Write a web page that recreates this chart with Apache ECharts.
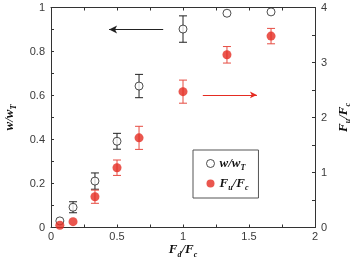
<!DOCTYPE html>
<html>
<head>
<meta charset="utf-8" />
<style>
  html, body { margin: 0; padding: 0; background: #fff; }
  #main { width: 352px; height: 257px; }
</style>
</head>
<body>
<div id="main"></div>
<script src="https://cdn.jsdelivr.net/npm/echarts@6/dist/echarts.min.js"></script>
<script>
// Fd/Fc positions
const forceRatio = [0.067, 0.167, 0.333, 0.5, 0.667, 1, 1.333, 1.667];
// w/wT (left axis) and its error
const widthRatio = [0.03, 0.092, 0.211, 0.392, 0.643, 0.902, 0.974, 0.98];
const widthErr = [0, 0.025, 0.037, 0.036, 0.053, 0.06, 0, 0];
// Fu/Fc (right axis) and its error
const upliftRatio = [0.04, 0.106, 0.56, 1.087, 1.63, 2.47, 3.14, 3.48];
const upliftErr = [0, 0, 0.12, 0.14, 0.21, 0.21, 0.15, 0.14];

const RED = '#e52c22';
const RED_BAR = '#e64c42';
const AXIS = '#333';

const chart = echarts.init(document.getElementById('main'));

const titleRich = {
  b: { fontFamily: 'Liberation Serif', fontStyle: 'italic', fontWeight: 'bold', fontSize: 13, color: '#111' },
  s: { fontFamily: 'Liberation Serif', fontStyle: 'italic', fontWeight: 'bold', fontSize: 8, color: '#111', padding: [9, 0, 0, 0] }
};

function errBars(vals, errs) {
  return forceRatio.map((x, i) => [x, vals[i] - errs[i], vals[i] + errs[i]]);
}

function barRenderer(color) {
  return function (params, api) {
    const x = api.value(0);
    const lo = api.coord([x, api.value(1)]);
    const hi = api.coord([x, api.value(2)]);
    if (Math.abs(lo[1] - hi[1]) < 1) return null;
    const cap = 4;
    const st = { stroke: color, lineWidth: 1 };
    return {
      type: 'group',
      children: [
        { type: 'line', shape: { x1: lo[0], y1: lo[1], x2: hi[0], y2: hi[1] }, style: st },
        { type: 'line', shape: { x1: lo[0] - cap, y1: lo[1], x2: lo[0] + cap, y2: lo[1] }, style: st },
        { type: 'line', shape: { x1: hi[0] - cap, y1: hi[1], x2: hi[0] + cap, y2: hi[1] }, style: st }
      ]
    };
  };
}

function axisBase(labelMargin) {
  return {
    axisLine: { onZero: false, lineStyle: { color: AXIS, width: 1 } },
    axisTick: { inside: true, length: 3, lineStyle: { color: AXIS } },
    minorTick: { show: true, splitNumber: 2, length: 3, lineStyle: { color: AXIS } },
    splitLine: { show: false },
    nameMoveOverlap: false,
    axisLabel: { color: '#3a3a3a', fontSize: 11, fontFamily: 'Liberation Sans', margin: labelMargin }
  };
}

const option = {
  animation: false,
  grid: { left: 51, right: 37, top: 7.5, bottom: 29.5, outerBoundsMode: 'none', containLabel: false },
  legend: {
    left: 193, top: 150,
    orient: 'vertical',
    data: [
      { name: 'w', itemStyle: { borderWidth: 1 } },
      { name: 'F' }
    ],
    borderColor: '#555', borderWidth: 1,
    padding: [7, 10, 6, 13],
    itemGap: 5,
    itemWidth: 8, itemHeight: 8,
    formatter: function (name) {
      return name === 'w' ? '{b|w/w}{s|T}' : '{b|F}{s|u}{b|/F}{s|c}';
    },
    textStyle: { rich: titleRich }
  },
  xAxis: [
    Object.assign(axisBase(4), {
      type: 'value', min: 0, max: 2, interval: 0.5,
      name: '{b|F}{s|d}{b|/F}{s|c}', nameLocation: 'middle', nameGap: 14,
      nameTextStyle: { rich: titleRich }
    }),
    Object.assign(axisBase(4), {
      type: 'value', min: 0, max: 2, interval: 0.5, position: 'top',
      axisLabel: { show: false }
    })
  ],
  yAxis: [
    Object.assign(axisBase(6), {
      type: 'value', min: 0, max: 1, interval: 0.2,
      name: '{b|w/w}{s|T}', nameLocation: 'middle', nameGap: 33, nameRotate: 90,
      nameTextStyle: { rich: titleRich }
    }),
    Object.assign(axisBase(6), {
      type: 'value', min: 0, max: 4, interval: 1, position: 'right',
      name: '{b|F}{s|u}{b|/F}{s|c}', nameLocation: 'middle', nameGap: 20, nameRotate: 90,
      nameTextStyle: { rich: titleRich }
    })
  ],
  series: [
    {
      type: 'custom', renderItem: barRenderer('#222'),
      data: errBars(widthRatio, widthErr), yAxisIndex: 0, z: 2,
      encode: { x: 0, y: [1, 2] }
    },
    {
      type: 'custom', renderItem: barRenderer(RED_BAR),
      data: errBars(upliftRatio, upliftErr), yAxisIndex: 1, z: 2,
      encode: { x: 0, y: [1, 2] }
    },
    {
      name: 'w', type: 'scatter', yAxisIndex: 0, z: 3,
      symbol: 'circle', symbolSize: 8,
      itemStyle: { color: '#fff', borderColor: '#222', borderWidth: 1 },
      data: forceRatio.map((x, i) => [x, widthRatio[i]]),
      markLine: {
        silent: true, symbol: ['none', 'arrow'], symbolSize: [6, 8],
        label: { show: false },
        lineStyle: { color: '#222', width: 1, type: 'solid' },
        data: [[{ coord: [0.85, 0.9] }, { coord: [0.44, 0.9] }]]
      }
    },
    {
      name: 'F', type: 'scatter', yAxisIndex: 1, z: 3,
      symbol: 'circle', symbolSize: 9,
      itemStyle: { color: RED, borderWidth: 0 },
      data: forceRatio.map((x, i) => [x, upliftRatio[i]]),
      markLine: {
        silent: true, symbol: ['none', 'arrow'], symbolSize: [5, 7],
        label: { show: false },
        lineStyle: { color: RED, width: 1, type: 'solid' },
        data: [[{ coord: [1.15, 2.41] }, { coord: [1.56, 2.41] }]]
      }
    }
  ]
};

chart.setOption(option);
</script>
</body>
</html>
